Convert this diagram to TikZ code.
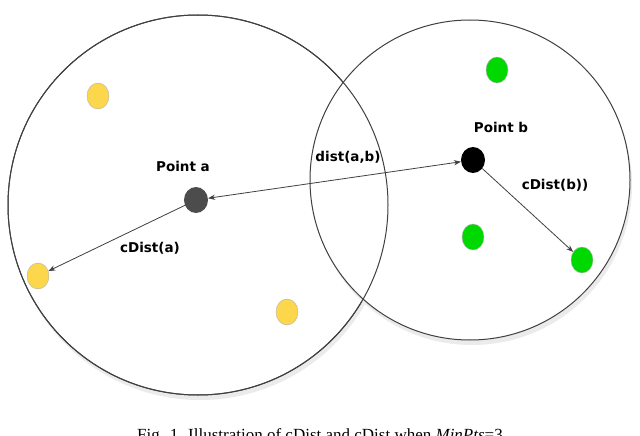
\documentclass[tikz,border=0pt]{standalone}
\usepackage{fontspec}
\setmainfont{Liberation Serif}
\newfontfamily\lblfont{DejaVu Sans}
\usetikzlibrary{arrows.meta,shapes.geometric}
\begin{document}
\begin{tikzpicture}[x=1pt,y=-1pt,
  ring/.style={draw=black!75,line width=1pt},
  ydot/.style={ellipse,fill=yellow!60!orange!70,draw=black!30,minimum width=22pt,minimum height=26pt,inner sep=0pt},
  gdot/.style={ellipse,fill=green!85!black,draw=black!30,minimum width=22pt,minimum height=26pt,inner sep=0pt},
  lbl/.style={font=\lblfont\bfseries\fontsize{13.5}{16}\selectfont},
  conn/.style={draw=black!75,line width=0.8pt,-{Stealth[length=7pt]}}]
\useasboundingbox (0,0) rectangle (640,436);
\clip (0,0) rectangle (640,436);
\fill[white] (0,0) rectangle (640,436);
\fill[black!8] (200,210) circle (190);
\fill[white] (198,205) circle (190);
\draw[ring] (198,205) circle (190);
\fill[black!8] (472,185) circle (160);
\fill[white] (470,180) circle (160);
\draw[ring] (470,180) circle (160);
\draw[ring] (198,205) circle (190);
\node[ydot] (y1) at (98,96) {};
\node[ydot] (y2) at (38,276) {};
\node[ydot] (y3) at (287,312) {};
\node[gdot] (g1) at (497,70) {};
\node[gdot] (g2) at (473,237) {};
\node[gdot] (g3) at (582,260) {};
\node[ellipse,fill=black!70,minimum width=24pt,minimum height=26pt,inner sep=0pt] (a) at (196,200) {};
\node[ellipse,fill=black,minimum width=24pt,minimum height=26pt,inner sep=0pt] (b) at (473,160) {};
\draw[conn,{Stealth[length=7pt]}-{Stealth[length=7pt]}] (a) -- (b);
\draw[conn] (a) -- (y2);
\draw[conn] (b) -- (g3);
\node[lbl] (la) at (183,166) {Point a};
\node[lbl] (lb) at (501,127) {Point b};
\node[lbl] (ld) at (348,157) {dist(a,b)};
\node[lbl] (lca) at (150,248) {cDist(a)};
\node[lbl] (lcb) at (555,185) {cDist(b))};
\node[font=\fontsize{17}{20}\selectfont] (cap) at (320,436) {Fig. 1. Illustration of cDist and cDist when \textit{MinPts}=3};
\end{tikzpicture}
\end{document}
